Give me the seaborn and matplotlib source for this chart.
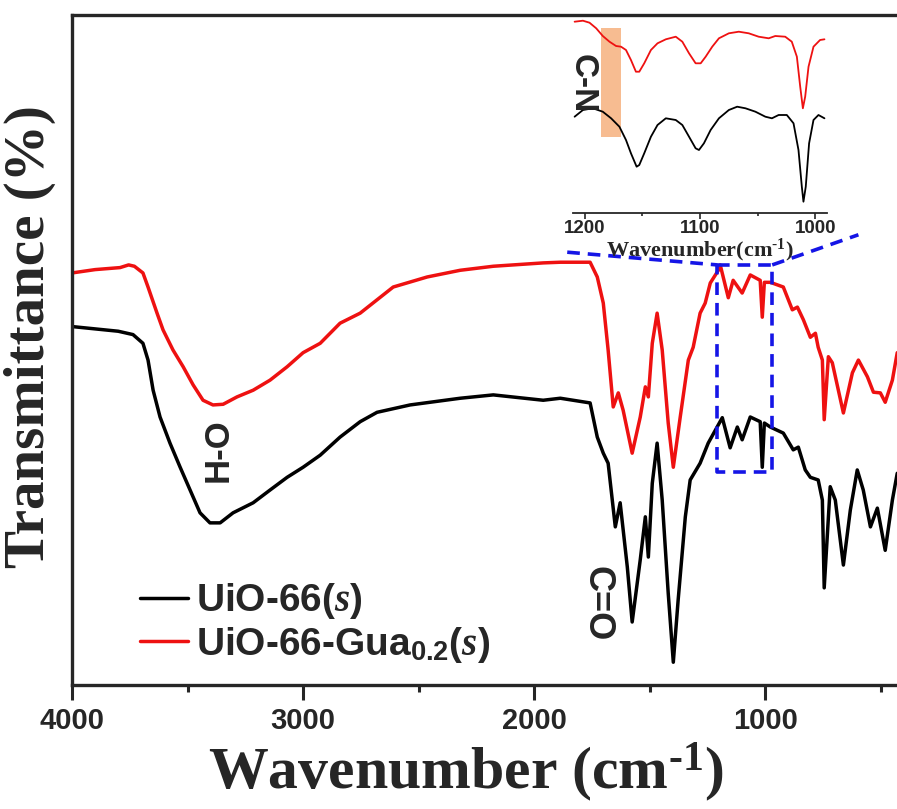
import matplotlib
matplotlib.use('Agg')
import matplotlib.pyplot as plt
import seaborn as sns
import pandas as pd

# main spectrum, UiO-66(s)
wn_black = [4000, 3800, 3736, 3693, 3671, 3649, 3619, 3576, 3532, 3489, 3446, 3403, 3359, 3303,
            3216, 3143, 3069, 3000, 2926, 2840, 2753, 2680, 2537, 2320, 2177, 1961, 1887, 1758,
            1727, 1701, 1680, 1649, 1628, 1597, 1576, 1541, 1519, 1506, 1489, 1468, 1446, 1420,
            1398, 1377, 1346, 1325, 1282, 1247, 1186, 1152, 1121, 1100, 1065, 1022, 1013, 1004,
            978, 922, 879, 857, 827, 805, 771, 753, 745, 719, 697, 662, 632, 602, 576, 545, 515,
            481, 450, 429]
t_black = [53.5, 52.8, 52.3, 51.0, 48.5, 44.0, 40.0, 36.1, 32.5, 29.1, 25.7, 24.2, 24.2, 25.7,
           27.2, 29.1, 31.0, 32.5, 34.3, 37.0, 39.3, 40.7, 41.8, 42.8, 43.3, 42.5, 42.8, 42.1,
           37.0, 34.6, 33.1, 23.6, 27.2, 17.6, 9.4, 18.7, 25.1, 19.1, 30.1, 36.1, 27.6, 13.7,
           3.4, 12.7, 25.1, 30.6, 33.1, 36.1, 39.9, 35.4, 38.5, 36.6, 40.0, 39.3, 32.5, 39.1,
           38.5, 37.6, 35.1, 35.5, 32.1, 31.0, 30.6, 27.6, 14.5, 29.6, 27.6, 17.9, 26.1, 32.1,
           29.1, 23.6, 26.4, 20.1, 27.6, 31.6]

# main spectrum, UiO-66-Gua0.2(s)
wn_red = [4000, 3900, 3792, 3755, 3730, 3693, 3671, 3632, 3606, 3563, 3519, 3476, 3433, 3390,
          3346, 3286, 3216, 3143, 3069, 3000, 2926, 2840, 2753, 2610, 2463, 2320, 2177, 1961,
          1887, 1758, 1727, 1701, 1680, 1658, 1636, 1615, 1576, 1541, 1519, 1506, 1489, 1468,
          1446, 1420, 1398, 1368, 1333, 1312, 1282, 1260, 1238, 1203, 1195, 1160, 1139, 1100,
          1065, 1022, 1013, 1004, 978, 922, 883, 861, 835, 805, 783, 771, 753, 745, 727, 710,
          662, 623, 597, 558, 532, 502, 481, 450, 429]
t_red = [61.5, 62.0, 62.3, 62.7, 62.5, 61.5, 59.4, 55.5, 53.0, 50.0, 47.5, 44.8, 42.5, 41.8,
         41.9, 43.0, 44.0, 45.5, 47.5, 49.6, 51.0, 54.0, 55.5, 59.4, 60.9, 61.9, 62.5, 63.0,
         63.1, 63.1, 60.9, 57.0, 50.0, 41.5, 43.6, 41.0, 34.6, 40.0, 44.5, 43.0, 51.0, 55.5,
         50.0, 39.1, 32.5, 40.0, 48.5, 50.4, 55.5, 57.0, 60.0, 61.9, 62.7, 57.8, 60.4, 58.5,
         61.2, 60.4, 54.9, 60.1, 60.1, 59.4, 56.0, 56.4, 54.5, 51.9, 52.5, 50.4, 48.5, 39.6,
         49.0, 48.1, 40.6, 46.6, 48.5, 46.0, 43.7, 43.6, 42.2, 45.5, 49.6]

# inset, 1210-990 cm-1
wn_inset_red = [1208.6, 1201.4, 1195.7, 1189.9, 1184.2, 1178.4, 1172.7, 1168.4, 1164.1, 1159.8,
                1155.5, 1152.6, 1148.3, 1142.5, 1136.8, 1129.6, 1121.0, 1115.3, 1109.5, 1103.8,
                1099.4, 1095.1, 1089.4, 1083.6, 1075.0, 1066.4, 1057.8, 1049.2, 1040.5, 1034.8,
                1026.2, 1020.5, 1016.1, 1013.2, 1010.9, 1008.9, 1006.0, 1001.7, 996.0, 992.2]
t_inset_red = [191.3, 192.3, 190.3, 184.7, 177, 171.3, 167, 166.3, 163, 153,
               141.3, 141.3, 149.7, 163, 169.7, 173.7, 176.3, 171.3, 159.7, 149.7,
               149.7, 156.3, 166.3, 174.7, 179.7, 181.3, 179.7, 176.3, 174.7, 177,
               176.3, 171.3, 156.3, 126.3, 104.7, 116.3, 146.3, 166.3, 173, 173.7]
wn_inset_black = [1208.6, 1201.4, 1192.8, 1184.2, 1177.0, 1169.8, 1164.1, 1159.8, 1154.9, 1152.6,
                  1148.3, 1142.5, 1136.8, 1129.6, 1121.0, 1115.3, 1109.5, 1103.8, 1100.9, 1096.6,
                  1090.8, 1083.6, 1075.0, 1067.8, 1060.6, 1052.0, 1043.4, 1037.7, 1031.9, 1024.8,
                  1019.0, 1014.7, 1011.8, 1010.4, 1008.4, 1005.5, 1001.7, 997.4, 992.2]
t_inset_black = [96.3, 103, 104.7, 101.3, 94.7, 86.3, 73, 59.7, 46.3, 48,
                 59.7, 76.3, 88, 94.7, 93, 88, 76.3, 64.7, 63, 69.7,
                 83, 94.7, 103, 106.3, 104.7, 101.3, 96.3, 94.7, 98, 98,
                 89.7, 63, 26.3, 11.3, 26.3, 69.7, 93, 98, 94.7]

series_names = ['UiO-66($\\mathit{s}$)', 'UiO-66-Gua$_{\\mathsf{0.2}}$($\\mathit{s}$)']
x_ticks = [4000, 3000, 2000, 1000]
x_minor = [3500, 2500, 1500, 500]
inset_ticks = [1200, 1100, 1000]
inset_minor = [1150, 1050]

sns.set_style('ticks')
plt.rcParams['font.family'] = ['Liberation Sans', 'DejaVu Sans']
plt.rcParams['font.weight'] = 'bold'
plt.rcParams['mathtext.fontset'] = 'custom'
plt.rcParams['mathtext.rm'] = 'Liberation Serif:bold'
plt.rcParams['mathtext.sf'] = 'Liberation Sans:bold'
plt.rcParams['mathtext.it'] = 'Liberation Serif:italic'
plt.rcParams['mathtext.bf'] = 'Liberation Serif:bold'

df_main = pd.concat([
    pd.DataFrame({'wn': wn_black, 't': t_black, 'sample': series_names[0]}),
    pd.DataFrame({'wn': wn_red, 't': t_red, 'sample': series_names[1]}),
])
palette = {series_names[0]: 'black', series_names[1]: '#ee1111'}

fig = plt.figure(figsize=(8.97, 8.09), dpi=100)
ax = fig.add_axes([72 / 897, 1 - 685 / 809, 825 / 897, 670 / 809])
sns.lineplot(data=df_main, x='wn', y='t', hue='sample', palette=palette, sort=False,
             estimator=None, linewidth=2.5, ax=ax)
ax.set_xlim(4000, 430)
ax.set_ylim(0, 100)
ax.set_xticks(x_ticks)
ax.set_xticks(x_minor, minor=True)
ax.set_yticks([])
ax.tick_params(axis='x', which='major', direction='out', length=11, width=2.2, pad=5,
               labelsize=21)
ax.tick_params(axis='x', which='minor', direction='out', length=5, width=2.2)
for lab in ax.get_xticklabels():
    lab.set_fontweight('bold')
for side in ['left', 'top', 'bottom']:
    ax.spines[side].set_linewidth(2.4)
ax.spines['right'].set_visible(False)

ax.set_xlabel('Wavenumber (cm$^{\\text{-}1}$)', family='Liberation Serif', fontweight='bold',
              fontsize=43)
ax.set_ylabel('Transmittance (%)', family='Liberation Serif', fontweight='bold', fontsize=41)
ax.xaxis.set_label_coords(0.477, -0.082)
ax.yaxis.set_label_coords(-0.02, 0.52)

ax.legend(loc='upper left', bbox_to_anchor=(0.082, 0.155), frameon=False, fontsize=28,
          handlelength=1.25, handletextpad=0.2, borderpad=0, borderaxespad=0,
          labelspacing=0.1)

ax.text(3368, 35.1, 'H-O', rotation=90, ha='center', va='center', fontsize=25,
        fontweight='bold')
ax.text(1727, 12.1, 'C=O', rotation=-90, ha='center', va='center', fontsize=26,
        fontweight='bold')

# zoom box and connectors
blue = dict(color='#1515e6', linestyle=(0, (3.5, 2.2)), linewidth=2.6, clip_on=False)
ax.plot([1208, 970, 970, 1208, 1208], [62.7, 62.7, 31.8, 31.8, 62.7], **blue)
ax.plot([1857, 1208], [64.6, 62.7], **blue)
ax.plot([970, 597], [62.7, 67.2], **blue)

# inset
axin = fig.add_axes([573 / 897, 1 - 213 / 809, 254 / 897, 198 / 809])
axin.set_facecolor('none')
sns.lineplot(x=wn_inset_red, y=t_inset_red, color='#ee1111', sort=False, estimator=None,
             linewidth=1.3, ax=axin)
sns.lineplot(x=wn_inset_black, y=t_inset_black, color='black', sort=False, estimator=None,
             linewidth=1.3, ax=axin)
axin.set_xlim(1210, 990)
axin.set_ylim(0, 198)
axin.set_xticks(inset_ticks)
axin.set_xticks(inset_minor, minor=True)
axin.set_yticks([])
axin.tick_params(axis='x', which='major', direction='out', length=4, width=1.2, pad=1,
                 labelsize=13.5)
axin.tick_params(axis='x', which='minor', direction='out', length=2.5, width=1.2)
for lab in axin.get_xticklabels():
    lab.set_fontweight('bold')
for side in ['left', 'top', 'right']:
    axin.spines[side].set_visible(False)
axin.spines['bottom'].set_linewidth(1.3)
axin.set_xlabel('Wavenumber(cm$^{\\text{-}1}$)', family='Liberation Serif',
                fontweight='bold', fontsize=16, labelpad=0)
axin.axvspan(1186, 1168, ymin=76 / 198, ymax=185 / 198, color='#F4A063', alpha=0.7, lw=0)
axin.text(1202, 129, 'C-N', rotation=-90, ha='center', va='center', fontsize=24,
          fontweight='bold', clip_on=False)

fig.savefig('out.png', dpi=100)
